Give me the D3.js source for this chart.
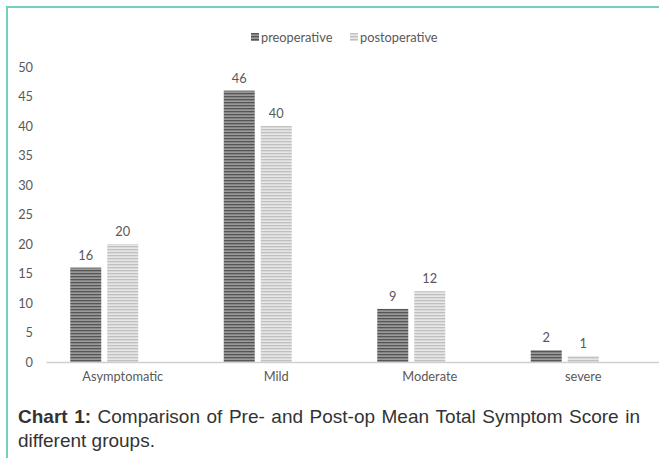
<!DOCTYPE html>
<html><head><meta charset="utf-8">
<script src="https://cdn.jsdelivr.net/npm/d3@7"></script>
<style>
html,body{margin:0;padding:0;background:#fff;}
svg{display:block;}
</style></head>
<body>
<svg id="chart" width="659" height="458"></svg>
<script>
const categories = ["Asymptomatic", "Mild", "Moderate", "severe"];
const seriesNames = ["preoperative", "postoperative"];
const preoperative = [16, 46, 9, 2];
const postoperative = [20, 40, 12, 1];
const yTicks = [0, 5, 10, 15, 20, 25, 30, 35, 40, 45, 50];
const captionBold = "Chart 1:";
const captionText = "Comparison of Pre- and Post-op Mean Total Symptom Score in different groups.";

const svg = d3.select("#chart");
const W = 659, H = 458;
const font = "Lato, 'Open Sans', sans-serif";
const fs = 12.8;

// patterns
const defs = svg.append("defs");
function stripe(id, base, line) {
  const p = defs.append("pattern").attr("id", id).attr("patternUnits", "userSpaceOnUse")
    .attr("width", 4).attr("height", 3);
  p.append("rect").attr("width", 4).attr("height", 3).attr("fill", base);
  p.append("rect").attr("y", 0).attr("width", 4).attr("height", 1.3).attr("fill", line);
}
stripe("patPre", "#999999", "#565656");
stripe("patPost", "#e6e6e6", "#c0c0c0");
const fills = {preoperative: "url(#patPre)", postoperative: "url(#patPost)"};

// frame
svg.append("line").attr("x1", 7).attr("x2", W).attr("y1", 7).attr("y2", 7)
  .attr("stroke", "#74cfbf").attr("stroke-width", 2);
svg.append("line").attr("x1", 7).attr("x2", 7).attr("y1", 6).attr("y2", H)
  .attr("stroke", "#74cfbf").attr("stroke-width", 2);

// scales
const x0 = d3.scaleBand().domain(categories).range([46, 660]).padding(0);
const x1 = d3.scaleBand().domain([...seriesNames, "_blank"])
  .range([24.25, 129.25]).paddingInner(6 / 37).paddingOuter(0);
const y = d3.scaleLinear().domain([0, 50]).range([362, 67]);

// y axis labels
const yAxis = d3.axisLeft(y).tickValues(yTicks).tickSize(0).tickPadding(0);
const gy = svg.append("g").attr("transform", "translate(33,0)").call(yAxis);
gy.select(".domain").remove();
gy.selectAll("text").attr("font-family", font).attr("font-size", fs).attr("fill", "#595959");

// bars
const data = categories.map((c, i) => ({cat: c, vals: [
  {s: "preoperative", v: preoperative[i]},
  {s: "postoperative", v: postoperative[i]}]}));
const groups = svg.append("g").selectAll("g").data(data).join("g")
  .attr("transform", d => `translate(${x0(d.cat)},0)`);
groups.selectAll("rect").data(d => d.vals).join("rect")
  .attr("x", d => x1(d.s)).attr("width", x1.bandwidth())
  .attr("y", d => y(d.v)).attr("height", d => y(0) - y(d.v))
  .attr("fill", d => fills[d.s]);
groups.selectAll("text.val").data(d => d.vals).join("text").attr("class", "val")
  .attr("x", d => x1(d.s) + x1.bandwidth() / 2).attr("y", d => y(d.v) - 8)
  .attr("text-anchor", "middle").attr("font-family", font).attr("font-size", fs)
  .attr("fill", "#595959").text(d => d.v);

// x axis
const xAxis = d3.axisBottom(x0).tickSize(0).tickPadding(10);
const gx = svg.append("g").attr("transform", `translate(0,${y(0)})`).call(xAxis);
gx.select(".domain").attr("stroke", "#d0d0d0").attr("stroke-width", 1.6);
gx.selectAll("text").attr("font-family", font).attr("font-size", fs).attr("fill", "#595959");

// legend
const legendX = [251, 350];
const lg = svg.append("g");
seriesNames.forEach((s, i) => {
  lg.append("rect").attr("x", legendX[i]).attr("y", 33).attr("width", 8).attr("height", 8)
    .attr("fill", fills[s]);
  lg.append("text").attr("x", legendX[i] + 10).attr("y", 41.5)
    .attr("font-family", font).attr("font-size", fs).attr("fill", "#595959").text(s);
});

// caption (justified first line)
const capFont = "'Liberation Sans', Arial, sans-serif";
const capSize = 19;
const wordList = [];
captionBold.split(" ").forEach(w => wordList.push({w, b: true}));
captionText.split(" ").forEach(w => wordList.push({w, b: false}));
const line1Count = 12; // through "in"
const cap = svg.append("g");
const left = 18, right = 640;
const line1 = wordList.slice(0, line1Count);
const line2 = wordList.slice(line1Count);
const tmp = line1.map(d => cap.append("text").attr("font-family", capFont).attr("font-size", capSize)
  .attr("font-weight", d.b ? "bold" : "normal").attr("fill", "#333").text(d.w));
const widths = tmp.map(t => t.node().getComputedTextLength());
const total = d3.sum(widths);
const gap = (right - left - total) / (line1.length - 1);
let cx = left;
tmp.forEach((t, i) => { t.attr("x", cx).attr("y", 423); cx += widths[i] + gap; });
cap.append("text").attr("x", left).attr("y", 447).attr("font-family", capFont)
  .attr("font-size", capSize).attr("fill", "#333").text(line2.map(d => d.w).join(" "));
</script>
</body></html>
